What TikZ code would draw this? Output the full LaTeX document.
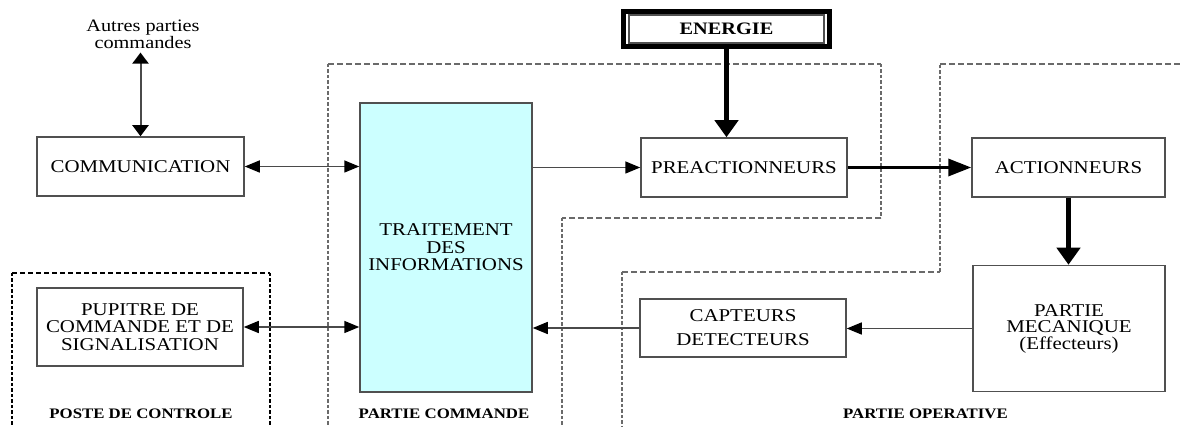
\documentclass[tikz,border=0pt]{standalone}
\usepackage{fontspec}
\setmainfont{Liberation Serif}[FakeStretch=1.16]
\usetikzlibrary{arrows.meta}
\definecolor{bordergray}{HTML}{505050}
\definecolor{linegray}{HTML}{4A4A4A}
\definecolor{lightcyan}{HTML}{CCFFFF}
\definecolor{dashgray}{HTML}{6A6A6A}
\tikzset{
  ht/.tip={Triangle[length=15pt,width=12pt,black]},
  vt/.tip={Triangle[length=11pt,width=16pt,black]},
  hT/.tip={Triangle[length=23pt,width=17pt,black]},
  vT/.tip={Triangle[length=17pt,width=23pt,black]},
  box/.style={draw=bordergray, line width=1.5pt, inner sep=0pt, align=center,
    font=\fontsize{18}{17.5}\selectfont, text=black},
  lbl/.style={inner sep=0pt, font=\bfseries\fontsize{14.5}{15}\selectfont},
  hthin/.style={draw=linegray, line width=1.5pt},
  vthin/.style={draw=linegray, line width=2pt},
  hthick/.style={draw=black, line width=3.5pt},
  vthick/.style={draw=black, line width=5pt},
  dh/.style={draw=dashgray, line width=1.4pt, dash pattern=on 6pt off 3pt},
  dv/.style={draw=dashgray, line width=1.8pt, dash pattern=on 3.5pt off 2pt},
  ph/.style={draw=black, line width=2.2pt, dash pattern=on 5pt off 3pt},
  pv/.style={draw=black, line width=2.8pt, dash pattern=on 3.5pt off 2pt},
}
\begin{document}
\begin{tikzpicture}[x=1pt,y=-1pt]
\useasboundingbox (0,0) rectangle (1181,427);
\fill[white] (0,0) rectangle (1181,427);

% dashed regions
% partie commande
\draw[dv] (328,64) -- (328,430);
\draw[dh] (328,64) -- (881,64);
\draw[dv] (881,64) -- (881,218);
\draw[dh] (881,218) -- (562,218);
\draw[dv] (562,218) -- (562,430);
% partie operative
\draw[dv] (622,272) -- (622,430);
\draw[dh] (622,272) -- (940,272);
\draw[dv] (940,272) -- (940,64);
\draw[dh] (940,64) -- (1185,64);
% poste de controle
\draw[ph] (12,273) -- (270,273);
\draw[pv] (12,273) -- (12,430);
\draw[pv] (270,273) -- (270,430);

% boxes
\node[box, minimum width=207pt, minimum height=59pt] (comm) at (140.5,166.5) {COMMUNICATION};
\node[box, fill=lightcyan, minimum width=172pt, minimum height=289pt] (trait) at (446,247.5) {TRAITEMENT\\DES\\INFORMATIONS};
\node[box, minimum width=206pt, minimum height=59pt] (preact) at (744,167.5) {PREACTIONNEURS};
\node[box, minimum width=193pt, minimum height=59pt] (action) at (1068.5,167.5) {ACTIONNEURS};
\node[box, minimum width=192pt, minimum height=126pt, font=\fontsize{18}{16.5}\selectfont] (meca) at (1069,328.5) {PARTIE\\MECANIQUE\\(Effecteurs)};
\node[box, minimum width=206pt, minimum height=58pt, font=\fontsize{18}{24}\selectfont] (capt) at (743,328) {CAPTEURS\\DETECTEURS};
\node[box, minimum width=206pt, minimum height=78pt] (pup) at (140,327) {PUPITRE DE\\COMMANDE ET DE\\SIGNALISATION};

% energie
\node[draw=black, line width=5pt, minimum width=206pt, minimum height=35pt, inner sep=0pt] (energieframe) at (726.5,29) {};
\node[draw=bordergray, line width=1.2pt, minimum width=195pt, minimum height=28pt, inner sep=0pt,
  font=\bfseries\fontsize{17.5}{18}\selectfont] (energie) at (energieframe.center) {ENERGIE};

% texts
\node[inner sep=0pt, align=center, font=\fontsize{17.5}{17}\selectfont] (autres) at (143,34) {Autres parties\\commandes};
\node[lbl] (lposte) at (141,414) {POSTE DE CONTROLE};
\node[lbl] (lcmd) at (444,414) {PARTIE COMMANDE};
\node[lbl] (lop) at (925.5,414) {PARTIE OPERATIVE};

% connectors
\coordinate (autresend) at ([yshift=-4pt]autres.south -| comm.north);
\draw[vthin, {vt}-{vt}] (autresend) -- (comm.north);
\draw[hthin, {ht}-{ht}] (comm.east) -- (comm.east -| trait.west);
\draw[hthin, {ht}-{ht}] (pup.east) -- (pup.east -| trait.west);
\draw[hthin, -{ht}] (trait.east |- preact.west) -- (preact.west);
\draw[hthin, -{ht}] (capt.west) -- (capt.west -| trait.east);
\draw[hthin, -{ht}] (meca.west) -- (meca.west -| capt.east);
\draw[vthick, -{vT}] (energieframe.south) -- (energieframe.south |- preact.north);
\draw[hthick, -{hT}] (preact.east) -- (action.west);
\draw[vthick, -{vT}] (action.south) -- (action.south |- meca.north);
\end{tikzpicture}
\end{document}
